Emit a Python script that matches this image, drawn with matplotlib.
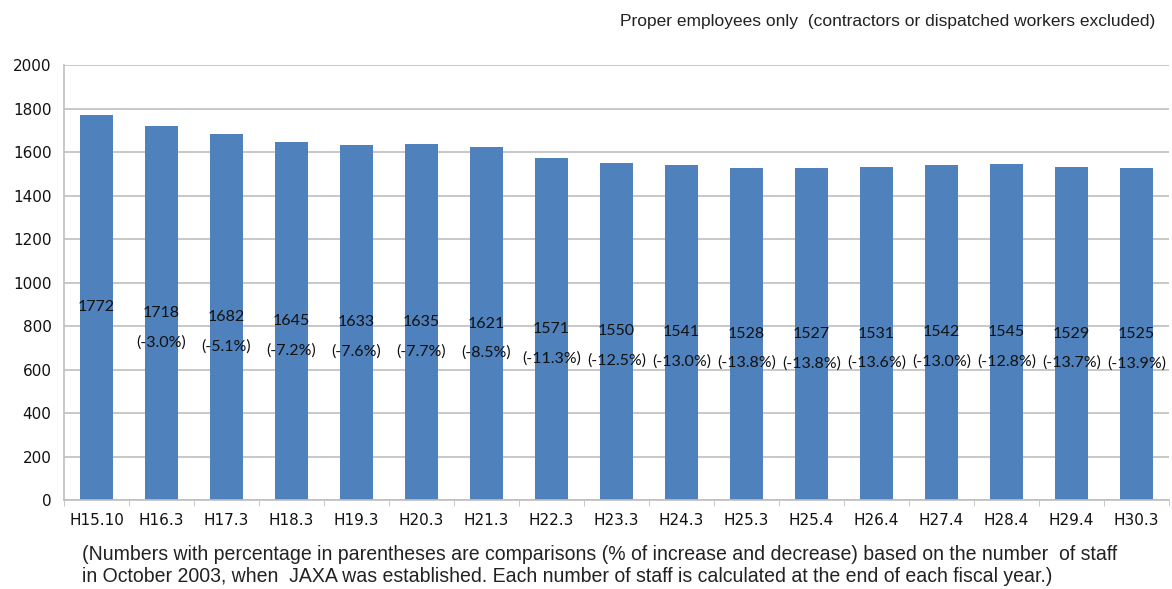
import matplotlib
matplotlib.use("Agg")
import matplotlib.pyplot as plt
import numpy as np

periods = ["H15.10", "H16.3", "H17.3", "H18.3", "H19.3", "H20.3", "H21.3", "H22.3",
           "H23.3", "H24.3", "H25.3", "H25.4", "H26.4", "H27.4", "H28.4", "H29.4", "H30.3"]
staff = [1772, 1718, 1682, 1645, 1633, 1635, 1621, 1571,
         1550, 1541, 1528, 1527, 1531, 1542, 1545, 1529, 1525]
change_pct = [None, -3.0, -5.1, -7.2, -7.6, -7.7, -8.5, -11.3,
              -12.5, -13.0, -13.8, -13.8, -13.6, -13.0, -12.8, -13.7, -13.9]

bar_color = "#4F81BD"
grid_color = "#BFBFBF"
tick_font = "DejaVu Sans"

fig = plt.figure(figsize=(11.72, 5.89), dpi=100)
ax = fig.add_axes([0.0546, 0.1511, 0.9428, 0.7385])

x = np.arange(len(periods))
ax.bar(x, staff, width=0.52, color=bar_color, zorder=2)

# value in the middle of each bar, change vs. Oct 2003 underneath
for xi, v, p in zip(x, staff, change_pct):
    ax.text(xi, v / 2, str(v), ha="center", va="center", fontsize=11.5,
            family="Lato", color="#111111", zorder=3)
    if p is not None:
        ax.annotate(f"({p:.1f}%)", (xi, v / 2), xytext=(0, -21),
                    textcoords="offset points", ha="center", va="center",
                    fontsize=11.5, family="Lato", color="#111111", zorder=3)

ax.set_xlim(-0.5, len(periods) - 0.5)
ax.set_ylim(0, 2000)
ax.yaxis.grid(True, color=grid_color, linewidth=1.2, zorder=0)
ax.set_axisbelow(True)

ax.set_xticks(x)
ax.set_xticklabels(periods, family=tick_font)
ax.set_yticks(range(0, 2001, 200))
ax.set_yticklabels([str(t) for t in range(0, 2001, 200)], family=tick_font)
ax.set_xticks(np.arange(-0.5, len(periods)), minor=True)
ax.tick_params(axis="x", which="major", length=0, pad=9, labelsize=11, labelcolor="#111111")
ax.tick_params(axis="x", which="minor", length=4, color=grid_color, direction="out")
ax.tick_params(axis="y", length=0, pad=9, labelsize=11, labelcolor="#111111")

for side in ["top", "right"]:
    ax.spines[side].set_visible(False)
for side in ["left", "bottom"]:
    ax.spines[side].set_color(grid_color)
    ax.spines[side].set_linewidth(1.2)

fig.text(0.9855, 0.963, "Proper employees only  (contractors or dispatched workers excluded)",
         ha="right", va="center", fontsize=12.5, family="Liberation Sans", color="#222222")
fig.text(0.070, 0.040,
         "(Numbers with percentage in parentheses are comparisons (% of increase and decrease) based on the number  of staff\n"
         "in October 2003, when  JAXA was established. Each number of staff is calculated at the end of each fiscal year.)",
         ha="left", va="center", fontsize=14.05, family="Liberation Sans", color="#222222",
         linespacing=1.25)

fig.savefig("out.png", dpi=100)
